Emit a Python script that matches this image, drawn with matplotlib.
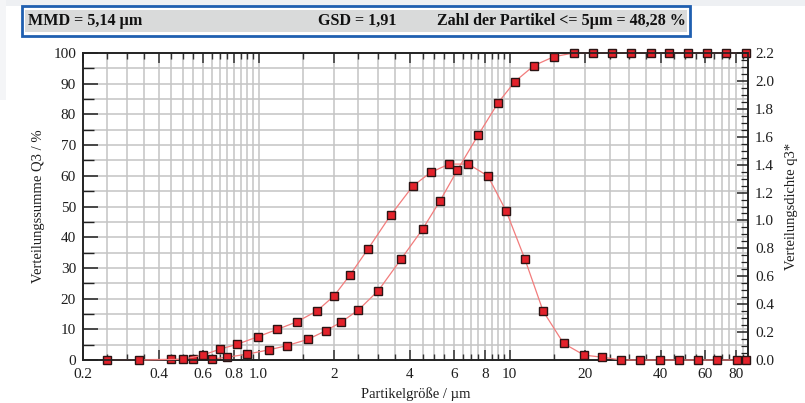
import matplotlib
matplotlib.use("Agg")
import matplotlib.pyplot as plt
from matplotlib.patches import Rectangle
from matplotlib.ticker import FixedLocator, NullFormatter
import numpy as np

# ── Data ─────────────────────────────────────────────────────────────────────
# Verteilungssumme Q3 in %, at the upper class edges
q3_size = [0.25, 0.45, 0.55, 0.65, 0.75, 0.9, 1.1, 1.3, 1.57, 1.85, 2.14, 2.5,
           3.0, 3.7, 4.5, 5.28, 6.2, 7.5, 9.0, 10.5, 12.5, 15.0, 18.0, 21.5,
           25.5, 30.5, 36.5, 43.3, 51.3, 61.0, 73.0, 87.0]
q3_sum = [0.0, 0.2, 0.3, 0.3, 0.9, 1.9, 3.3, 4.7, 6.7, 9.5, 12.4, 16.3,
          22.6, 32.9, 42.6, 51.8, 61.9, 73.3, 83.8, 90.7, 95.9, 98.8, 100.0, 100.0,
          100.0, 100.0, 100.0, 100.0, 100.0, 100.0, 100.0, 100.0]

# Verteilungsdichte q3*, at the class means
dens_size = [0.335, 0.50, 0.60, 0.70, 0.82, 0.995, 1.19, 1.42, 1.71, 2.0, 2.32,
             2.73, 3.36, 4.12, 4.85, 5.74, 6.85, 8.2, 9.7, 11.5, 13.6, 16.4,
             19.8, 23.4, 27.9, 33.2, 39.6, 47.1, 56.1, 67.0, 80.4, 87.0]
dens_q3 = [0.0, 0.005, 0.035, 0.077, 0.112, 0.167, 0.220, 0.273, 0.352, 0.460,
           0.612, 0.796, 1.038, 1.247, 1.344, 1.404, 1.404, 1.318, 1.065, 0.724,
           0.350, 0.119, 0.035, 0.020, 0.0, 0.0, 0.0, 0.0, 0.0, 0.0, 0.0, 0.0]

x_major = [0.2, 0.4, 0.6, 0.8, 1.0, 2, 4, 6, 8, 10, 20, 40, 60, 80]
x_major_labels = ["0.2", "0.4", "0.6", "0.8", "1.0", "2", "4", "6", "8",
                  "10", "20", "40", "60", "80"]

header_left = "MMD = 5,14 µm"
header_mid = "GSD = 1,91"
header_right = "Zahl der Partikel <= 5µm = 48,28 %"

# class grid of the instrument
grid_x = (list(np.round(np.arange(0.25, 1.0001, 0.05), 2))
          + list(np.round(np.arange(1.5, 10.0001, 0.5), 1))
          + list(np.arange(15, 90, 5)))

C_LINE = "#f27c7c"
C_FACE = "#e3222b"
C_EDGE = "#2b1414"
C_GRID = "#c4c4c4"
C_TEXT = "#1e1e1e"

plt.rcParams.update({
    "font.family": ["Liberation Serif", "DejaVu Serif"],
    "font.size": 10.5,
})

fig = plt.figure(figsize=(8.05, 4.03), dpi=100, facecolor="white")

# screenshot margins
fig.patches.append(Rectangle((0, 1 - 6 / 403), 1, 6 / 403, transform=fig.transFigure,
                             facecolor="#eef0f3", edgecolor="none", zorder=0))
fig.patches.append(Rectangle((0, 1 - 100 / 403), 6 / 805, 100 / 403, transform=fig.transFigure,
                             facecolor="#f4f5f7", edgecolor="none", zorder=0))

# ── Header box ───────────────────────────────────────────────────────────────
fig.patches.append(Rectangle((22 / 805, 1 - 36 / 403), 668 / 805, 30 / 403,
                             transform=fig.transFigure, facecolor="white",
                             edgecolor="#1f5fb0", linewidth=2.0, zorder=1))
fig.patches.append(Rectangle((25 / 805, 1 - 32 / 403), 662 / 805, 22 / 403,
                             transform=fig.transFigure, facecolor="#d9dada",
                             edgecolor="none", zorder=2))
hy = 1 - 21 / 403
fig.text(28 / 805, hy, header_left, ha="left", va="center", fontsize=11.6,
         fontweight="bold", color="#111111", zorder=3)
fig.text(318 / 805, hy, header_mid, ha="left", va="center", fontsize=11.6,
         fontweight="bold", color="#111111", zorder=3)
fig.text(686 / 805, hy, header_right, ha="right", va="center", fontsize=11.6,
         fontweight="bold", color="#111111", zorder=3)

# ── Main axes ────────────────────────────────────────────────────────────────
ax = fig.add_axes([83 / 805, 43 / 403, 665 / 805, 307 / 403])
ax.set_xscale("log")
ax.set_xlim(0.2, 89)
ax.set_ylim(0, 100)

ax2 = ax.twinx()
ax2.set_ylim(0, 2.2)

# grid
for gx in grid_x:
    ax.axvline(gx, color=C_GRID, linewidth=1.1, zorder=0)
for gy in np.arange(5, 100, 5):
    ax.axhline(gy, color=C_GRID, linewidth=1.1, zorder=0)

# x ticks
ax.xaxis.set_major_locator(FixedLocator(x_major))
ax.set_xticklabels(x_major_labels)
ax.xaxis.set_minor_locator(FixedLocator(grid_x))
ax.xaxis.set_minor_formatter(NullFormatter())
ax.tick_params(axis="x", which="major", direction="in", length=7, width=1.1,
               top=True, bottom=True, color="#333333", labelcolor=C_TEXT,
               labelsize=11, pad=6)
ax.tick_params(axis="x", which="minor", direction="in", length=4, width=1.0,
               top=True, bottom=True, color="#333333")

# left y ticks
ax.set_yticks(np.arange(0, 101, 10))
ax.yaxis.set_minor_locator(FixedLocator(np.arange(5, 100, 10)))
ax.tick_params(axis="y", which="major", direction="in", length=11, width=1.1,
               color="#222222", labelcolor=C_TEXT, labelsize=11, pad=5)
ax.tick_params(axis="y", which="minor", direction="in", length=8, width=1.0,
               color="#222222")

# right y ticks
ax2.set_yticks(np.round(np.arange(0, 2.21, 0.2), 1))
ax2.set_yticklabels([f"{v:.1f}" for v in np.arange(0, 2.21, 0.2)])
ax2.yaxis.set_minor_locator(FixedLocator(np.arange(0.05, 2.2, 0.05)))
ax2.tick_params(axis="y", which="major", direction="in", length=8, width=1.1,
                color="#222222", labelcolor=C_TEXT, labelsize=11, pad=5)
ax2.tick_params(axis="y", which="minor", direction="in", length=5, width=0.9,
                color="#222222")

for a in (ax, ax2):
    for s in a.spines.values():
        s.set_color("#222222")
        s.set_linewidth(1.2)

# series
ax.plot(q3_size, q3_sum, color=C_LINE, linewidth=0.9, zorder=3, clip_on=False)
ax.plot(q3_size, q3_sum, linestyle="none", marker="s", markersize=6.4,
        markerfacecolor=C_FACE, markeredgecolor=C_EDGE, markeredgewidth=1.0,
        zorder=5, clip_on=False)
ax2.plot(dens_size, dens_q3, color=C_LINE, linewidth=0.9, zorder=3, clip_on=False)
ax2.plot(dens_size, dens_q3, linestyle="none", marker="s", markersize=6.4,
         markerfacecolor=C_FACE, markeredgecolor=C_EDGE, markeredgewidth=1.0,
         zorder=5, clip_on=False)

ax.set_ylabel("Verteilungssumme Q3 / %", fontsize=10.5, color=C_TEXT, labelpad=6)
ax2.set_ylabel("Verteilungsdichte q3*", fontsize=10.5, color=C_TEXT, labelpad=8)
ax.set_xlabel("Partikelgröße / µm", fontsize=10.5, color=C_TEXT, labelpad=4)

fig.savefig("out.png", dpi=100, facecolor=fig.get_facecolor())
